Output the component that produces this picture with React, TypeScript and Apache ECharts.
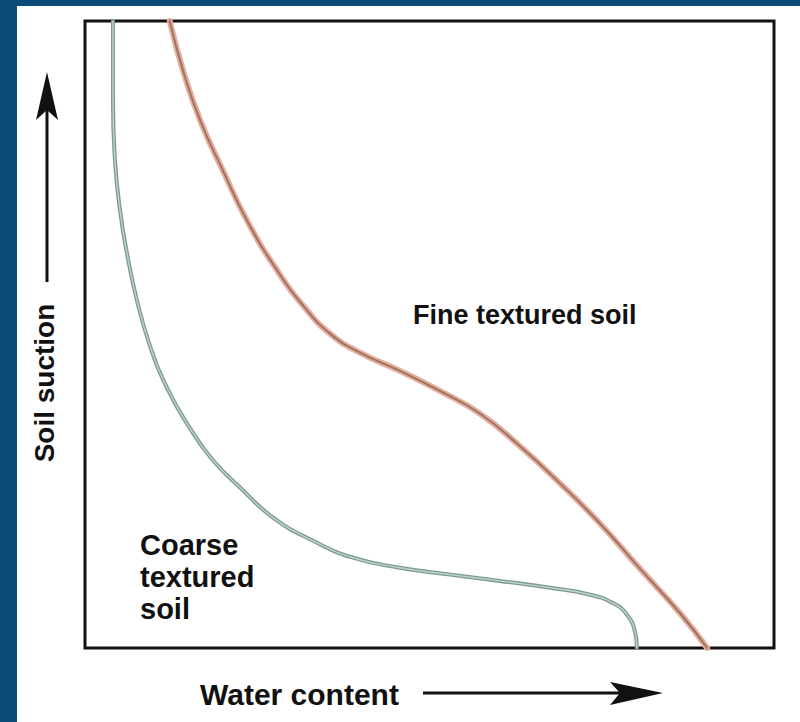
import React, { useEffect, useRef } from "react";
import * as echarts from "echarts";

// Water retention curves (relative units: x = water content 0-100, y = soil suction 0-100)
const coarseSoil: [number, number][] = [
  [4.06, 100], [4.06, 87.4], [4.35, 77.8], [5.08, 69.8], [6.1, 62.9], [7.55, 55.4],
  [9.43, 48.2], [11.9, 41.5], [15.2, 35.1], [18.6, 29.9], [22.5, 25.6], [27.3, 20.8],
  [33.1, 17.1], [38.9, 14.4], [45.7, 12.8], [53.0, 11.7], [60.2, 10.7], [67.5, 9.6],
  [73.3, 8.5], [76.9, 7.0], [78.8, 5.1], [79.8, 2.7], [80.1, 0],
];
const fineSoil: [number, number][] = [
  [12.3, 100], [14.2, 92.2], [16.7, 84.2], [20.0, 76.2], [23.5, 68.2], [27.9, 60.2],
  [31.9, 54.3], [35.6, 50.1], [39.9, 47.1], [45.7, 44.2], [51.5, 41.0], [57.3, 37.4],
  [63.1, 32.2], [68.9, 26.3], [74.7, 19.9], [80.5, 12.7], [86.4, 5.5], [90.3, 0],
];
const labels = {
  fine: "Fine textured soil",
  coarse: ["Coarse", "textured", "soil"],
  xTitle: "Water content",
  yTitle: "Soil suction",
};

const FONT = "'Liberation Sans', Arial, Helvetica, sans-serif";
const BLUE = "#0b4b79";

export default function App() {
  const ref = useRef<HTMLDivElement>(null);
  useEffect(() => {
    if (!ref.current) return;
    const chart = echarts.init(ref.current, undefined, { renderer: "svg" });
    const lineSeries = (data: [number, number][], color: string, width: number, z: number) => ({
      type: "line",
      data,
      smooth: 0.5,
      showSymbol: false,
      symbol: "none",
      z,
      lineStyle: { color, width, cap: "round", join: "round" },
      silent: true,
    });
    const txt = (text: string, x: number, y: number, size: number, rotation = 0) => ({
      type: "text",
      x,
      y,
      rotation,
      style: {
        text,
        fill: "#111",
        font: `bold ${size}px ${FONT}`,
        align: rotation ? "center" : "left",
        verticalAlign: "middle",
      },
      z: 10,
    });
    chart.setOption({
      animation: false,
      backgroundColor: "#ffffff",
      grid: {
        left: 85,
        top: 21,
        right: 26,
        bottom: 74,
        show: true,
        borderColor: "#111",
        borderWidth: 3,
        backgroundColor: "transparent",
      },
      xAxis: { type: "value", min: 0, max: 100, show: false },
      yAxis: { type: "value", min: 0, max: 100, show: false },
      series: [
        lineSeries(coarseSoil, "#7d9993", 4, 2),
        lineSeries(coarseSoil, "#bcd5cd", 1.4, 3),
        lineSeries(fineSoil, "#e6ad9d", 6, 2),
        lineSeries(fineSoil, "#9c7464", 2, 3),
      ],
      graphic: [
        { type: "rect", shape: { x: 0, y: 0, width: 800, height: 6 }, style: { fill: BLUE }, z: 20 },
        { type: "rect", shape: { x: 0, y: 0, width: 17, height: 722 }, style: { fill: BLUE }, z: 20 },
        txt(labels.fine, 413, 315, 27),
        txt(labels.coarse[0], 140, 545, 29),
        txt(labels.coarse[1], 140, 577, 29),
        txt(labels.coarse[2], 140, 609, 29),
        txt(labels.xTitle, 200, 694, 30),
        txt(labels.yTitle, 44, 383, 28, Math.PI / 2),
        // x arrow
        { type: "line", shape: { x1: 423, y1: 693, x2: 625, y2: 693 }, style: { stroke: "#111", lineWidth: 3 }, z: 10 },
        {
          type: "polygon",
          shape: { points: [[663, 693], [610, 682], [620, 693], [610, 705]] },
          style: { fill: "#111" },
          z: 10,
        },
        // y arrow
        { type: "line", shape: { x1: 47, y1: 282, x2: 47, y2: 105 }, style: { stroke: "#111", lineWidth: 3 }, z: 10 },
        {
          type: "polygon",
          shape: { points: [[47, 72], [36, 120], [47, 110], [58, 120]] },
          style: { fill: "#111" },
          z: 10,
        },
      ],
    });
    return () => chart.dispose();
  }, []);
  return (
    <div
      ref={ref}
      style={{ position: "fixed", left: 0, top: 0, width: 800, height: 722, background: "#fff" }}
    />
  );
}
